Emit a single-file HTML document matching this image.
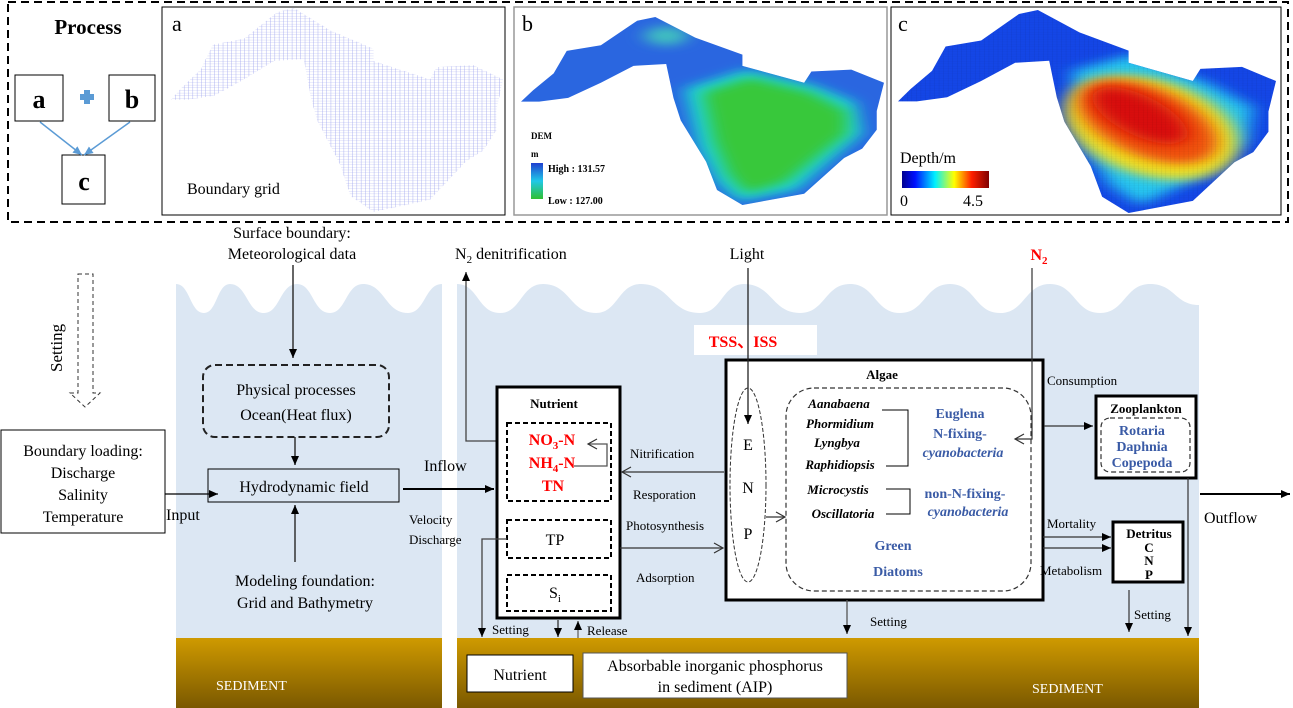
<!DOCTYPE html>
<html><head><meta charset="utf-8"><style>
html,body{margin:0;padding:0;background:#fff}
svg{display:block}
text{font-family:"Liberation Serif",serif;fill:#000}
.b{font-weight:bold}
.r{fill:#ff0000;font-weight:bold}
.bl{fill:#3a5ba6;font-weight:bold}
</style></head><body>
<svg width="1293" height="708" viewBox="0 0 1293 708" xmlns="http://www.w3.org/2000/svg">
<defs>
<marker id="ah" markerWidth="10" markerHeight="10" refX="9" refY="5" orient="auto" markerUnits="userSpaceOnUse"><path d="M0,1 L9,5 L0,9 Z" fill="#000"/></marker>
<marker id="ao" markerWidth="12" markerHeight="12" refX="10" refY="6" orient="auto" markerUnits="userSpaceOnUse"><path d="M1,1 L10,6 L1,11" fill="none" stroke="#333" stroke-width="1.2"/></marker>
<marker id="ab" markerWidth="10" markerHeight="10" refX="9" refY="5" orient="auto" markerUnits="userSpaceOnUse"><path d="M0,1 L9,5 L0,9 Z" fill="#5b9bd5"/></marker>
<path id="lake" d="M0,45 L3.3,39 L9,30 L12.6,18 L22,15 L32,2 L37,0 L48,11 L61,20 L61,26 L78,35 L80,29 L91,28 L100,35 L98,50 L98,60 L94,70 L89,75 L78,94 L61,100 L54,92 L51,77 L44,55 L42,43 L40,25 L31,26 L22,35 L13,43 L5,45 Z"/>
<clipPath id="clA"><use href="#lake"/></clipPath>
<pattern id="grid" width="1.3" height="1.3" patternUnits="userSpaceOnUse"><path d="M0,0 H1.3 M0,0 V1.3" stroke="#9fa5ee" stroke-width="0.25" fill="none"/></pattern>
<pattern id="gridc" width="1.2" height="1.2" patternUnits="userSpaceOnUse"><path d="M0,0 H1.2 M0,0 V1.2" stroke="#000" stroke-opacity="0.15" stroke-width="0.15" fill="none"/></pattern>
<filter id="bl1" x="-50%" y="-50%" width="200%" height="200%"><feGaussianBlur stdDeviation="2.5"/></filter>
<linearGradient id="dem" x1="0" y1="0" x2="0" y2="1"><stop offset="0" stop-color="#2040d0"/><stop offset="0.5" stop-color="#20c8e8"/><stop offset="1" stop-color="#30c030"/></linearGradient>
<linearGradient id="jet" x1="0" y1="0" x2="1" y2="0"><stop offset="0" stop-color="#00008f"/><stop offset="0.15" stop-color="#0010ff"/><stop offset="0.38" stop-color="#00f0ff"/><stop offset="0.6" stop-color="#ffff00"/><stop offset="0.8" stop-color="#ff2000"/><stop offset="1" stop-color="#800000"/></linearGradient>
<linearGradient id="sed" x1="0" y1="0" x2="0" y2="1"><stop offset="0" stop-color="#cf9a00"/><stop offset="1" stop-color="#7a5800"/></linearGradient>
</defs>

<rect x="8" y="2" width="1280" height="220" fill="none" stroke="#000" stroke-width="2" stroke-dasharray="8,5"/>
<text x="88" y="34" font-size="21" class="b" text-anchor="middle">Process</text>
<rect x="15" y="75" width="48" height="46" fill="#fff" stroke="#000"/>
<rect x="109" y="75" width="46" height="46" fill="#fff" stroke="#000"/>
<rect x="62" y="155" width="43" height="49" fill="#fff" stroke="#000"/>
<text x="39" y="108" font-size="26" class="b" text-anchor="middle">a</text>
<text x="132" y="108" font-size="26" class="b" text-anchor="middle">b</text>
<text x="84" y="190" font-size="26" class="b" text-anchor="middle">c</text>
<path d="M80,97 h14 M87,90 v14" stroke="#5b9bd5" stroke-width="6"/>
<line x1="40" y1="122" x2="82" y2="155" stroke="#5b9bd5" stroke-width="1.5" marker-end="url(#ab)"/>
<line x1="130" y1="122" x2="84" y2="155" stroke="#5b9bd5" stroke-width="1.5" marker-end="url(#ab)"/>

<rect x="162" y="7" width="343" height="208" fill="#fff" stroke="#000"/>
<g transform="translate(171,8) scale(3.32,2.04)"><rect width="100" height="100" fill="url(#grid)" clip-path="url(#clA)"/></g>
<text x="172" y="31" font-size="22">a</text>
<text x="187" y="194" font-size="16">Boundary grid</text>

<rect x="514" y="7" width="373" height="208" fill="#fff" stroke="#999" stroke-width="1.5"/>
<g transform="translate(521,17) scale(3.63,1.88)">
<g clip-path="url(#clA)">
<rect width="100" height="100" fill="#2a66e0"/>
<path d="M45,38 L62,28 L80,36 L92,45 L94,62 L86,75 L76,92 L60,98 L54,88 L49,70 Z" fill="#1ed6d6" filter="url(#bl1)"/>
<path d="M50,40 L63,32 L80,40 L90,50 L90,62 L82,74 L73,88 L62,94 L57,84 L53,66 Z" fill="#38c83a" filter="url(#bl1)"/>
<ellipse cx="40" cy="10" rx="6" ry="5" fill="#40c0c0" filter="url(#bl1)"/>
</g></g>
<text x="522" y="31" font-size="22">b</text>
<text x="531" y="139" font-size="9" class="b">DEM</text>
<text x="531" y="157" font-size="9" class="b">m</text>
<rect x="531" y="163" width="12" height="36" fill="url(#dem)"/>
<text x="548" y="172" font-size="10" class="b">High : 131.57</text>
<text x="548" y="204" font-size="10" class="b">Low : 127.00</text>

<rect x="891" y="7" width="390" height="208" fill="#fff" stroke="#000"/>
<g transform="translate(898,10) scale(3.78,2.03)">
<g clip-path="url(#clA)">
<rect width="100" height="100" fill="#1446e6"/>
<path d="M46,30 L62,22 L82,36 L94,48 L92,65 L80,82 L64,96 L56,86 L50,68 Z" fill="#28c8f0" filter="url(#bl1)"/>
<ellipse cx="67" cy="58" rx="20" ry="28" transform="rotate(-35 67 58)" fill="#f0e020" filter="url(#bl1)"/>
<ellipse cx="66" cy="55" rx="14" ry="24" transform="rotate(-38 66 55)" fill="#f05010" filter="url(#bl1)"/>
<ellipse cx="64" cy="52" rx="8" ry="17" transform="rotate(-40 64 52)" fill="#d81010" filter="url(#bl1)"/>
<rect width="100" height="100" fill="url(#gridc)"/>
</g></g>
<text x="898" y="31" font-size="22">c</text>
<text x="900" y="163" font-size="16">Depth/m</text>
<rect x="902" y="171" width="87" height="17" fill="url(#jet)"/>
<text x="900" y="206" font-size="16">0</text>
<text x="963" y="206" font-size="16">4.5</text>

<path d="M176,284 C190,284 190,313 204,313 C217,313 217,284 230,284 C247,284 247,313 264,313 C280,313 280,284 297,284 C313,284 313,313 330,313 C346,313 346,284 363,284 C385,284 385,313 408,313 C425,313 425,284 442,284 L442,640 L176,640 Z" fill="#dce7f3"/>
<path d="M457,284 C478,284 478,313 500,313 C521,313 521,284 543,284 C570,284 570,313 596,313 C618,313 618,284 641,284 C670,284 670,313 700,313 C722,313 722,284 744,284 C772,284 772,313 800,313 C825,313 825,284 850,284 C875,284 875,313 900,313 C925,313 925,284 950,284 C975,284 975,313 1000,313 C1025,313 1025,284 1050,284 C1075,284 1075,313 1100,313 C1125,313 1125,284 1150,284 C1175,284 1175,305 1199,305 L1199,640 L457,640 Z" fill="#dce7f3"/>
<rect x="176" y="638" width="266" height="70" fill="url(#sed)"/>
<rect x="457" y="638" width="742" height="70" fill="url(#sed)"/>
<text x="216" y="690" font-size="14" style="fill:#fff">SEDIMENT</text>
<text x="1032" y="693" font-size="14" style="fill:#fff">SEDIMENT</text>

<text x="292" y="238" font-size="16" text-anchor="middle">Surface boundary:</text>
<text x="292" y="259" font-size="16" text-anchor="middle">Meteorological data</text>
<line x1="293" y1="265" x2="293" y2="358" stroke="#333" stroke-width="1.5" marker-end="url(#ah)"/>
<rect x="203" y="365" width="186" height="72" rx="12" fill="none" stroke="#222" stroke-width="2" stroke-dasharray="7,4"/>
<text x="296" y="395" font-size="16" text-anchor="middle">Physical processes</text>
<text x="296" y="420" font-size="16" text-anchor="middle">Ocean(Heat flux)</text>
<line x1="295" y1="437" x2="295" y2="465" stroke="#333" stroke-width="1.5" marker-end="url(#ah)"/>
<rect x="208" y="469" width="191" height="33" fill="none" stroke="#000"/>
<text x="304" y="492" font-size="16" text-anchor="middle">Hydrodynamic field</text>
<line x1="295" y1="562" x2="295" y2="505" stroke="#333" stroke-width="1.5" marker-end="url(#ah)"/>
<text x="305" y="586" font-size="16" text-anchor="middle">Modeling foundation:</text>
<text x="305" y="608" font-size="16" text-anchor="middle">Grid and Bathymetry</text>
<rect x="1" y="430" width="164" height="103" fill="#fff" stroke="#000"/>
<text x="83" y="456" font-size="16" text-anchor="middle">Boundary loading:</text>
<text x="83" y="478" font-size="16" text-anchor="middle">Discharge</text>
<text x="83" y="500" font-size="16" text-anchor="middle">Salinity</text>
<text x="83" y="522" font-size="16" text-anchor="middle">Temperature</text>
<line x1="165" y1="494" x2="218" y2="494" stroke="#000" stroke-width="1.3" marker-end="url(#ah)"/>
<text x="166" y="520" font-size="16">Input</text>
<text transform="translate(62,372) rotate(-90)" font-size="17">Setting</text>
<path d="M78,274 H93 V393 H100 L85,407 L70,393 H78 Z" fill="none" stroke="#333" stroke-width="1" stroke-dasharray="4,3"/>
<line x1="403" y1="489" x2="494" y2="489" stroke="#000" stroke-width="2" marker-end="url(#ah)"/>
<text x="424" y="471" font-size="16">Inflow</text>
<text x="409" y="524" font-size="13">Velocity</text>
<text x="409" y="544" font-size="13">Discharge</text>

<text x="455" y="259" font-size="16">N<tspan font-size="11" dy="4">2</tspan><tspan dy="-4"> denitrification</tspan></text>
<polyline points="507,441 466,441 466,272" fill="none" stroke="#444" stroke-width="1.3" marker-end="url(#ah)"/>

<rect x="497" y="387" width="123" height="231" fill="#fff" stroke="#000" stroke-width="3"/>
<text x="554" y="408" font-size="13" class="b" text-anchor="middle">Nutrient</text>
<rect x="507" y="423" width="104" height="78" fill="none" stroke="#000" stroke-width="2" stroke-dasharray="5,3"/>
<text x="552" y="445" font-size="16" class="r" text-anchor="middle">NO<tspan font-size="11" dy="4">3</tspan><tspan dy="-4">-N</tspan></text>
<text x="552" y="468" font-size="16" class="r" text-anchor="middle">NH<tspan font-size="11" dy="4">4</tspan><tspan dy="-4">-N</tspan></text>
<text x="553" y="491" font-size="16" class="r" text-anchor="middle">TN</text>
<polyline points="574,466 607,466 607,444 588,444" fill="none" stroke="#555" stroke-width="1.3" marker-end="url(#ao)"/>
<rect x="507" y="520" width="104" height="38" fill="none" stroke="#000" stroke-width="2" stroke-dasharray="5,3"/>
<text x="555" y="545" font-size="16" text-anchor="middle">TP</text>
<rect x="507" y="575" width="104" height="36" fill="none" stroke="#000" stroke-width="2" stroke-dasharray="5,3"/>
<text x="555" y="598" font-size="16" text-anchor="middle">S<tspan font-size="11" dy="4">i</tspan></text>
<polyline points="507,539 482,539 482,637" fill="none" stroke="#444" stroke-width="1.3" marker-end="url(#ah)"/>
<text x="492" y="634" font-size="13">Setting</text>
<line x1="558" y1="620" x2="558" y2="637" stroke="#333" stroke-width="1.3" marker-end="url(#ah)"/>
<line x1="578" y1="638" x2="578" y2="621" stroke="#666" stroke-width="1.3" marker-end="url(#ah)"/>
<text x="587" y="635" font-size="13">Release</text>

<line x1="724" y1="472" x2="622" y2="472" stroke="#333" stroke-width="1.3" marker-end="url(#ao)"/>
<text x="630" y="458" font-size="13">Nitrification</text>
<text x="633" y="499" font-size="13">Resporation</text>
<line x1="620" y1="548" x2="723" y2="548" stroke="#333" stroke-width="1.3" marker-end="url(#ao)"/>
<text x="626" y="530" font-size="13">Photosynthesis</text>
<text x="636" y="582" font-size="13">Adsorption</text>

<text x="747" y="259" font-size="16" text-anchor="middle">Light</text>
<rect x="694" y="325" width="123" height="30" fill="#fff"/>
<text x="743" y="347" font-size="16" class="r" text-anchor="middle">TSS、ISS</text>

<rect x="726" y="360" width="317" height="240" fill="#fff" stroke="#000" stroke-width="3"/>
<line x1="748" y1="268" x2="748" y2="424" stroke="#222" stroke-width="1.3" marker-end="url(#ah)"/>
<text x="882" y="379" font-size="13" class="b" text-anchor="middle">Algae</text>
<ellipse cx="748" cy="485" rx="18" ry="97" fill="none" stroke="#333" stroke-width="1" stroke-dasharray="4,2"/>
<text x="748" y="450" font-size="16" text-anchor="middle">E</text>
<text x="748" y="493" font-size="16" text-anchor="middle">N</text>
<text x="748" y="539" font-size="16" text-anchor="middle">P</text>
<line x1="766" y1="517" x2="785" y2="517" stroke="#333" stroke-width="1.2" marker-end="url(#ao)"/>
<rect x="786" y="388" width="245" height="203" rx="28" fill="none" stroke="#333" stroke-width="1.2" stroke-dasharray="5,3"/>
<g font-size="13" font-style="italic" font-weight="bold" text-anchor="middle">
<text x="839" y="408">Aanabaena</text>
<text x="840" y="428">Phormidium</text>
<text x="837" y="447">Lyngbya</text>
<text x="840" y="469">Raphidiopsis</text>
<text x="838" y="494">Microcystis</text>
<text x="843" y="518">Oscillatoria</text>
</g>
<polyline points="882,410 908,410 908,466 886,466" fill="none" stroke="#000" stroke-width="1"/>
<polyline points="886,489 910,489 910,514 886,514" fill="none" stroke="#000" stroke-width="1"/>
<g font-size="14" text-anchor="middle">
<text x="960" y="418" class="bl">Euglena</text>
<text x="960" y="438" class="bl">N-fixing-</text>
<text x="963" y="457" class="bl" font-style="italic">cyanobacteria</text>
<text x="965" y="498" class="bl">non-N-fixing-</text>
<text x="968" y="516" class="bl" font-style="italic">cyanobacteria</text>
<text x="893" y="550" class="bl">Green</text>
<text x="898" y="576" class="bl">Diatoms</text>
</g>
<text x="1039" y="260" font-size="16" class="r" text-anchor="middle">N<tspan font-size="11" dy="4">2</tspan></text>
<polyline points="1032,268 1032,439 1015,439" fill="none" stroke="#333" stroke-width="1.2" marker-end="url(#ao)"/>

<text x="1047" y="385" font-size="13">Consumption</text>
<line x1="1044" y1="426" x2="1093" y2="426" stroke="#333" stroke-width="1.3" marker-end="url(#ah)"/>
<rect x="1096" y="396" width="100" height="82" fill="#fff" stroke="#000" stroke-width="3"/>
<text x="1146" y="413" font-size="13" class="b" text-anchor="middle">Zooplankton</text>
<rect x="1101" y="418" width="89" height="54" rx="9" fill="none" stroke="#333" stroke-width="1.2" stroke-dasharray="5,3"/>
<g font-size="14" text-anchor="middle">
<text x="1142" y="435" class="bl">Rotaria</text>
<text x="1142" y="451" class="bl">Daphnia</text>
<text x="1142" y="467" class="bl">Copepoda</text>
</g>
<line x1="1188" y1="478" x2="1188" y2="636" stroke="#333" stroke-width="1.2" marker-end="url(#ah)"/>
<line x1="1200" y1="494" x2="1290" y2="494" stroke="#000" stroke-width="2" marker-end="url(#ah)"/>
<text x="1204" y="523" font-size="16">Outflow</text>

<text x="1047" y="528" font-size="13">Mortality</text>
<line x1="1043" y1="537" x2="1111" y2="537" stroke="#333" stroke-width="1.2" marker-end="url(#ah)"/>
<line x1="1043" y1="548" x2="1111" y2="548" stroke="#333" stroke-width="1.2" marker-end="url(#ah)"/>
<text x="1040" y="575" font-size="13">Metabolism</text>
<rect x="1113" y="522" width="70" height="60" fill="#fff" stroke="#000" stroke-width="3"/>
<g font-size="13" text-anchor="middle">
<text x="1149" y="538" class="b">Detritus</text>
<text x="1149" y="552" class="b">C</text>
<text x="1149" y="565" class="b">N</text>
<text x="1149" y="579" class="b">P</text>
</g>
<line x1="1129" y1="590" x2="1129" y2="632" stroke="#333" stroke-width="1.2" marker-end="url(#ah)"/>
<text x="1134" y="619" font-size="13">Setting</text>
<line x1="847" y1="600" x2="847" y2="634" stroke="#555" stroke-width="1.3" marker-end="url(#ah)"/>
<text x="870" y="626" font-size="13">Setting</text>

<rect x="467" y="655" width="106" height="37" fill="#fff" stroke="#000"/>
<text x="520" y="680" font-size="16" text-anchor="middle">Nutrient</text>
<rect x="583" y="653" width="264" height="45" fill="#fff" stroke="#555"/>
<text x="715" y="671" font-size="16" text-anchor="middle">Absorbable inorganic phosphorus</text>
<text x="715" y="692" font-size="16" text-anchor="middle">in sediment (AIP)</text>
</svg>
</body></html>
